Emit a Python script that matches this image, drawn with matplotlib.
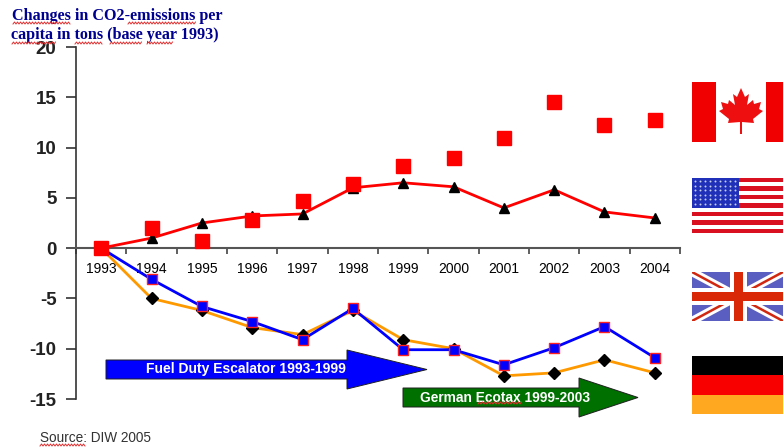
import matplotlib
matplotlib.use("Agg")
import matplotlib.pyplot as plt
import numpy as np
from matplotlib.patches import Polygon, Rectangle

plt.rcParams["font.family"] = ["Liberation Sans", "DejaVu Sans"]

YEARS = ["1993", "1994", "1995", "1996", "1997", "1998", "1999", "2000", "2001", "2002", "2003", "2004"]
CANADA = [0, 2.0, 0.7, 2.8, 4.7, 6.4, 8.2, 9.0, 11.0, 14.5, 12.2, 12.7]
USA = [0, 1.0, 2.5, 3.2, 3.4, 6.0, 6.5, 6.1, 4.0, 5.8, 3.6, 3.0]
UK = [0, -3.1, -5.8, -7.3, -9.1, -6.0, -10.1, -10.1, -11.6, -9.9, -7.8, -10.9]
GERMANY = [0, -5.0, -6.2, -7.9, -8.6, -6.2, -9.1, -10.0, -12.7, -12.4, -11.1, -12.4]
Y_TICKS = [-15, -10, -5, 0, 5, 10, 15, 20]

W, H = 783, 447
LEAF = [
    (0, -23), (4, -14), (8, -17), (6, -6), (12, -11), (13, -7), (20, -9), (18, -2), (22, 0),
    (12, 8), (13, 12), (1, 11), (1, 23), (-1, 23), (-1, 11), (-13, 12), (-12, 8), (-22, 0),
    (-18, -2), (-20, -9), (-13, -7), (-12, -11), (-6, -6), (-8, -17), (-4, -14),
]


def wavy(ax, x0, x1, y):
    xs = np.arange(x0, x1 + 1, 1.5)
    ys = y + 1.0 * (-1.0) ** np.arange(len(xs))
    ax.plot(xs, ys, color="#E03030", linewidth=0.7, zorder=6)


def draw_arrow(ax, x0, x1, x2, top, bot, head_top, head_bot, color):
    mid = (top + bot) / 2
    pts = [(x0, top), (x1, top), (x1, head_top), (x2, mid), (x1, head_bot), (x1, bot), (x0, bot)]
    ax.add_patch(Polygon(pts, closed=True, facecolor=color, edgecolor="#202020", linewidth=0.7, zorder=3))


def draw_flags(ax):
    # Canada
    ax.add_patch(Rectangle((692, 82), 91, 60, color="#F00000", lw=0))
    ax.add_patch(Rectangle((716, 82), 50, 60, color="white", lw=0))
    ax.add_patch(Polygon([(741 + x, 111 + y) for x, y in LEAF], closed=True, color="#EE1010", lw=0))

    # USA
    ax.add_patch(Rectangle((692, 178), 91, 55, color="white", lw=0))
    stripe = 55 / 13
    for i in range(0, 13, 2):
        ax.add_patch(Rectangle((692, 178 + i * stripe), 91, stripe, color="#D81020", lw=0))
    ax.add_patch(Rectangle((692, 178), 47, 30, color="#2030B8", lw=0))
    sx, sy = np.meshgrid(np.arange(695, 738, 5.0), np.arange(181, 206, 4.5))
    ax.scatter(sx.ravel(), sy.ravel(), s=2.0, color="#C8D0F0", linewidths=0)

    # UK
    box = Rectangle((692, 272), 91, 49, color="#5A5EC0", lw=0, zorder=1)
    ax.add_patch(box)
    for xs, lw, col in [((692, 783), 6, "white"), ((692, 783), 1.8, "#D02810")]:
        for ys in [(272, 321), (321, 272)]:
            ln, = ax.plot(xs, ys, color=col, linewidth=lw, solid_capstyle="butt", zorder=1.5)
            ln.set_clip_path(box)
    ax.add_patch(Rectangle((730, 272), 17, 49, color="white", lw=0, zorder=2))
    ax.add_patch(Rectangle((692, 288), 91, 17, color="white", lw=0, zorder=2))
    ax.add_patch(Rectangle((734, 272), 9, 49, color="#D82808", lw=0, zorder=2.5))
    ax.add_patch(Rectangle((692, 292), 91, 9, color="#D82808", lw=0, zorder=2.5))

    # Germany
    ax.add_patch(Rectangle((692, 356), 91, 19, color="black", lw=0))
    ax.add_patch(Rectangle((692, 375), 91, 20, color="#F80000", lw=0))
    ax.add_patch(Rectangle((692, 395), 91, 19, color="#FFA820", lw=0))


def main():
    fig = plt.figure(figsize=(W / 100, H / 100), dpi=100, facecolor="white")
    ax = fig.add_axes([76 / W, 1 - 399 / H, 604 / W, 352 / H])
    x = np.arange(len(YEARS))

    ax.plot(x, GERMANY, color="#FF9900", linewidth=2, marker="D", markersize=6,
            markerfacecolor="black", markeredgecolor="black", zorder=3)
    ax.plot(x, USA, color="#FF0000", linewidth=2, marker="^", markersize=7,
            markerfacecolor="black", markeredgecolor="black", zorder=3)
    ax.plot(x, UK, color="#0000FF", linewidth=2, marker="s", markersize=7.5,
            markerfacecolor="#0000FF", markeredgecolor="#FF2020", markeredgewidth=1, zorder=4)
    ax.plot(x, CANADA, linestyle="none", marker="s", markersize=9.5,
            markerfacecolor="#FF0000", markeredgecolor="#FF0000", zorder=5, clip_on=False)

    ax.set_xlim(-0.5, len(YEARS) - 0.5)
    ax.set_ylim(-15, 20)
    ax.set_yticks(Y_TICKS)
    ax.set_yticklabels([str(v) for v in Y_TICKS], fontsize=13.5, fontweight="bold", color="#222222")
    ax.tick_params(axis="y", length=7, width=1.2, color="#333333", pad=7)
    ax.set_xticks(np.arange(len(YEARS) + 1) - 0.5)
    ax.set_xticklabels([])
    ax.tick_params(axis="x", length=4, width=1.2, color="#444444", direction="out")
    ax.set_xticks(x, minor=True)
    ax.set_xticklabels(YEARS, minor=True, fontsize=8.2, color="#222222")
    ax.tick_params(axis="x", which="minor", length=0, pad=10)

    ax.spines["top"].set_visible(False)
    ax.spines["right"].set_visible(False)
    ax.spines["bottom"].set_position(("data", 0))
    ax.spines["bottom"].set_linewidth(1.5)
    ax.spines["bottom"].set_color("#555555")
    ax.spines["left"].set_linewidth(1.2)
    ax.spines["left"].set_color("#333333")

    over = fig.add_axes([0, 0, 1, 1], zorder=5)
    over.set_xlim(0, W)
    over.set_ylim(H, 0)
    over.axis("off")

    draw_arrow(over, 106, 347, 427, 360, 379, 350, 389, "#0000FF")
    draw_arrow(over, 403, 579, 638, 388, 407, 378, 417, "#007000")
    over.text(245.5, 369.5, "Fuel Duty Escalator 1993-1999", color="white", fontsize=10,
              fontweight="bold", ha="center", va="center", zorder=6)
    over.text(505.5, 397.5, "German Ecotax 1999-2003", color="white", fontsize=9.9,
              fontweight="bold", ha="center", va="center", zorder=6)

    title_font = ["Liberation Serif", "DejaVu Serif"]
    over.text(12, 16.5, "Changes in CO2-emissions per", color="#000090", fontsize=11.6,
              fontweight="bold", family=title_font, va="center")
    over.text(11, 35, "capita in tons (base year 1993)", color="#000090", fontsize=11.6,
              fontweight="bold", family=title_font, va="center")
    over.text(40, 438.5, "Source: DIW 2005", color="#333333", fontsize=9.8, va="center")

    for x0, x1, y in [(13, 70, 23), (128, 195, 23), (12, 55, 43), (75, 102, 43),
                      (110, 142, 43), (147, 173, 43), (40, 85, 445), (478, 522, 403)]:
        wavy(over, x0, x1, y)

    draw_flags(over)
    fig.savefig("out.png", dpi=100, facecolor="white")
    plt.close(fig)


if __name__ == "__main__":
    main()
